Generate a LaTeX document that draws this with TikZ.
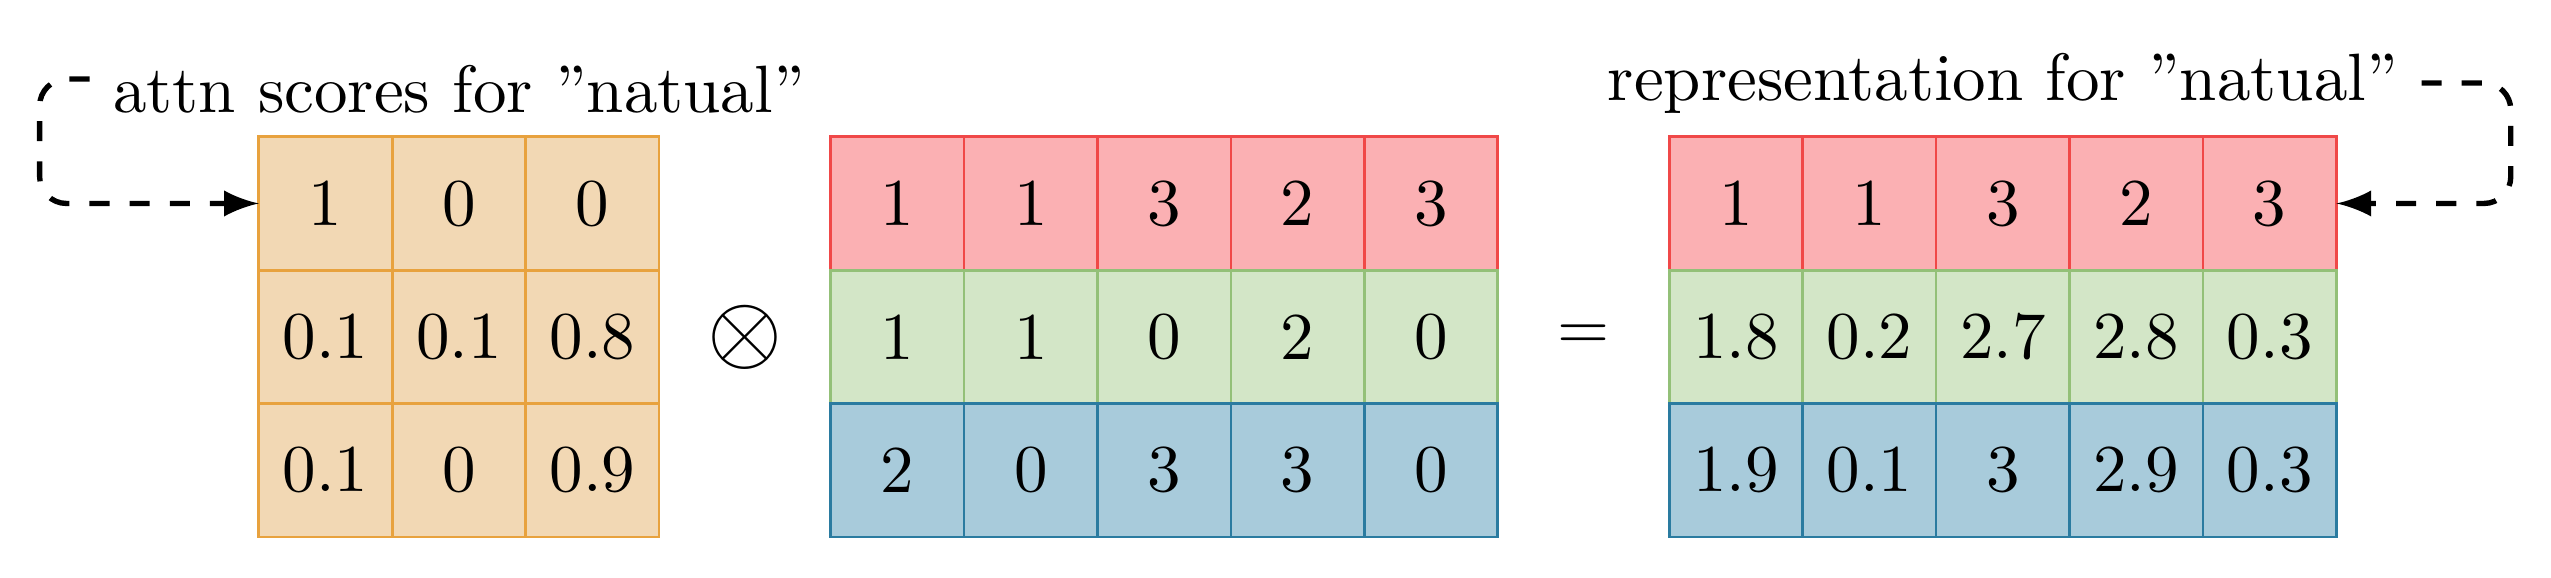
\documentclass[tikz,border=0pt]{standalone}
\usetikzlibrary{arrows}
\definecolor{attnline}{HTML}{E8A23E}
\definecolor{attnfill}{HTML}{F2D8B4}
\definecolor{redline}{HTML}{F04848}
\definecolor{redfill}{HTML}{FBB0B3}
\definecolor{greenline}{HTML}{93C078}
\definecolor{greenfill}{HTML}{D3E6C7}
\definecolor{blueline}{HTML}{2A7BA0}
\definecolor{bluefill}{HTML}{A8CBDB}
\tikzset{
    cell/.style={draw, minimum width=0.7cm, minimum height=0.7cm, inner sep=0pt, outer sep=0pt},
    attncell/.style={cell, draw=attnline, fill=attnfill},
    redcell/.style={cell, draw=redline, fill=redfill},
    greencell/.style={cell, draw=greenline, fill=greenfill},
    bluecell/.style={cell, draw=blueline, fill=bluefill},
    loop arrow/.style={thick, dashed, -latex, rounded corners}
}
\begin{document}
\begin{tikzpicture}
            \useasboundingbox (-1.358,-0.21) rectangle (12.026,2.8175);
            % attention scores
            \foreach \r/\vals in {1/{1,0,0}, 2/{0.1,0.1,0.8}, 3/{0.1,0,0.9}} {
                \foreach \v [count=\c] in \vals {
                    \node[attncell] (a-\r-\c) at ({0.7*\c-0.35}, {2.45-0.7*\r}) {\v};
                }
            }
            % value vectors
            \foreach \r/\sty/\vals in {1/redcell/{1,1,3,2,3}, 2/greencell/{1,1,0,2,0}, 3/bluecell/{2,0,3,3,0}} {
                \foreach \v [count=\c] in \vals {
                    \node[\sty] (v-\r-\c) at ({2.65+0.7*\c}, {2.45-0.7*\r}) {\v};
                }
            }
            % output
            \foreach \r/\sty/\vals in {1/redcell/{1,1,3,2,3}, 2/greencell/{1.8,0.2,2.7,2.8,0.3}, 3/bluecell/{1.9,0.1,3,2.9,0.3}} {
                \foreach \v [count=\c] in \vals {
                    \node[\sty] (o-\r-\c) at ({7.05+0.7*\c}, {2.45-0.7*\r}) {\v};
                }
            }
            \node (times) at (2.55, 1.05) {\Large$\otimes$};
            \node (eq) at (6.95, 1.05) {$=$};
            \node[above] (attnlbl) at (a-1-2.north) {attn scores for ”natual”};
            \node[above] (replbl) at (o-1-3.north) {representation for ”natual”};
            \draw[loop arrow] ([yshift=1.5pt]attnlbl.west) -| ([xshift=-1.15cm]a-1-1.west) -- (a-1-1.west);
            \draw[loop arrow] (replbl.east) -| ([xshift=0.915cm]o-1-5.east) -- (o-1-5.east);
        \end{tikzpicture}
\end{document}
